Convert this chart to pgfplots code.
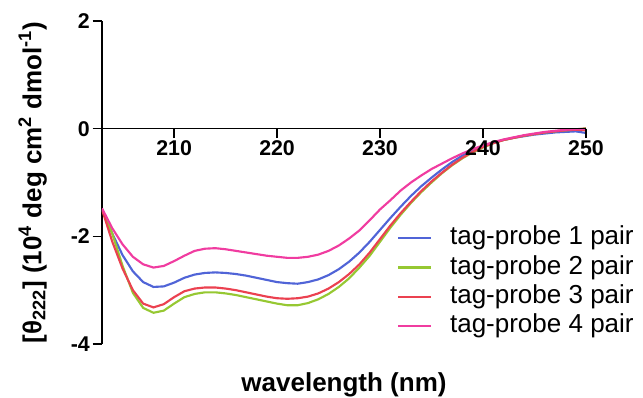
\documentclass[border=0pt]{standalone}
\usepackage{pgfplots}
\pgfplotsset{compat=1.18}
\usepackage{fontspec}
\setmainfont{Liberation Sans}
\definecolor{cblue}{RGB}{80,100,215}
\definecolor{cgreen}{RGB}{150,200,50}
\definecolor{cred}{RGB}{235,65,80}
\definecolor{cpink}{RGB}{240,60,160}
\begin{document}
\begin{tikzpicture}
\path[use as bounding box] (-76.5pt,-39.75pt) rectangle (405.75pt,258pt);
\begin{axis}[
  at={(0,0)}, anchor=south west,
  scale only axis, width=363pt, height=242.25pt,
  xmin=203, xmax=250, ymin=-4, ymax=2,
  axis x line*=bottom, axis y line*=left,
  axis line style={line width=1.2pt, black},
  x axis line style={draw=none},
  xtick=\empty,
  ytick={-4,-2,0,2}, yticklabels={-4,-2,0,2},
  tick align=outside, major tick length=7pt,
  tick style={line width=1.2pt, black},
  yticklabel style={font=\fontsize{16}{19}\selectfont\bfseries, inner sep=2pt},
  xlabel={wavelength (nm)},
  xlabel style={at={(axis description cs:0.5,0)}, anchor=north, yshift=-21pt, inner sep=0pt, font=\fontsize{19.5}{23}\selectfont\bfseries},
  ylabel={[θ\textsubscript{222}] (10\textsuperscript{4} deg cm\textsuperscript{2} dmol\textsuperscript{-1})},
  ylabel style={at={(axis description cs:0,0.5)}, anchor=center, yshift=52pt, inner sep=0pt, font=\fontsize{19.5}{23}\selectfont\bfseries},
  legend style={at={(axis description cs:0.609,0.372)}, anchor=north west, draw=none, fill=none, inner sep=0pt,
    font=\fontsize{19.5}{23}\selectfont, row sep=1pt, nodes={inner sep=1pt, text height=14.5pt, text depth=4.5pt}},
  legend cell align=left,
  legend image code/.code={\draw[#1, line width=1.6pt] (0pt,0pt) -- (25pt,0pt); \path[draw=none] (0pt,0pt) -- (38pt,0pt);},
  every axis plot/.append style={line width=1.6pt},
]
\addplot[cblue] coordinates {
(203,-1.50)(204,-1.95)(205,-2.35)(206,-2.65)(207,-2.85)(208,-2.94)(209,-2.93)(210,-2.86)(211,-2.77)(212,-2.71)(213,-2.68)(214,-2.67)(215,-2.68)(216,-2.70)(217,-2.73)(218,-2.77)(219,-2.81)(220,-2.85)(221,-2.87)(222,-2.88)(223,-2.85)(224,-2.80)(225,-2.72)(226,-2.61)(227,-2.47)(228,-2.30)(229,-2.10)(230,-1.88)(231,-1.66)(232,-1.45)(233,-1.25)(234,-1.07)(235,-0.91)(236,-0.76)(237,-0.62)(238,-0.50)(239,-0.40)(240,-0.32)(241,-0.26)(242,-0.21)(243,-0.17)(244,-0.14)(245,-0.11)(246,-0.09)(247,-0.07)(248,-0.06)(249,-0.05)(250,-0.08)};
\addlegendentry{tag-probe 1 pair}
\addplot[cgreen] coordinates {
(203,-1.50)(204,-1.95)(205,-2.55)(206,-3.05)(207,-3.33)(208,-3.42)(209,-3.38)(210,-3.25)(211,-3.13)(212,-3.07)(213,-3.04)(214,-3.04)(215,-3.06)(216,-3.09)(217,-3.13)(218,-3.17)(219,-3.21)(220,-3.25)(221,-3.28)(222,-3.28)(223,-3.24)(224,-3.17)(225,-3.07)(226,-2.94)(227,-2.78)(228,-2.58)(229,-2.36)(230,-2.10)(231,-1.84)(232,-1.60)(233,-1.38)(234,-1.18)(235,-1.00)(236,-0.83)(237,-0.68)(238,-0.55)(239,-0.44)(240,-0.35)(241,-0.27)(242,-0.21)(243,-0.17)(244,-0.13)(245,-0.10)(246,-0.07)(247,-0.05)(248,-0.03)(249,-0.02)(250,0.01)};
\addlegendentry{tag-probe 2 pair}
\addplot[cred] coordinates {
(203,-1.50)(204,-2.10)(205,-2.60)(206,-3.00)(207,-3.25)(208,-3.32)(209,-3.26)(210,-3.13)(211,-3.02)(212,-2.97)(213,-2.95)(214,-2.95)(215,-2.97)(216,-3.00)(217,-3.04)(218,-3.08)(219,-3.12)(220,-3.15)(221,-3.16)(222,-3.15)(223,-3.12)(224,-3.06)(225,-2.97)(226,-2.85)(227,-2.70)(228,-2.52)(229,-2.30)(230,-2.05)(231,-1.80)(232,-1.57)(233,-1.36)(234,-1.16)(235,-0.98)(236,-0.82)(237,-0.67)(238,-0.54)(239,-0.43)(240,-0.34)(241,-0.27)(242,-0.21)(243,-0.17)(244,-0.13)(245,-0.10)(246,-0.07)(247,-0.05)(248,-0.03)(249,-0.02)(250,-0.03)};
\addlegendentry{tag-probe 3 pair}
\addplot[cpink] coordinates {
(203,-1.48)(204,-1.85)(205,-2.15)(206,-2.38)(207,-2.52)(208,-2.58)(209,-2.55)(210,-2.46)(211,-2.36)(212,-2.27)(213,-2.23)(214,-2.22)(215,-2.24)(216,-2.27)(217,-2.30)(218,-2.33)(219,-2.36)(220,-2.38)(221,-2.40)(222,-2.40)(223,-2.38)(224,-2.34)(225,-2.27)(226,-2.17)(227,-2.04)(228,-1.89)(229,-1.70)(230,-1.50)(231,-1.33)(232,-1.15)(233,-1.00)(234,-0.87)(235,-0.75)(236,-0.65)(237,-0.55)(238,-0.46)(239,-0.38)(240,-0.31)(241,-0.25)(242,-0.20)(243,-0.16)(244,-0.12)(245,-0.09)(246,-0.06)(247,-0.04)(248,-0.02)(249,-0.01)(250,0.00)};
\addlegendentry{tag-probe 4 pair}
\end{axis}
\begin{axis}[
  at={(0,161.5pt)}, anchor=south west,
  scale only axis, width=363pt, height=80.75pt,
  xmin=203, xmax=250, ymin=0, ymax=2,
  axis x line*=bottom, axis y line=none,
  axis line style={line width=1.2pt, black},
  xtick={210,220,230,240,250}, xticklabels={210,220,230,240,250},
  tick align=outside, major tick length=7pt,
  tick style={line width=1.2pt, black},
  xticklabel style={font=\fontsize{16}{19}\selectfont\bfseries, inner sep=2pt},
]
\end{axis}
\end{tikzpicture}
\end{document}
